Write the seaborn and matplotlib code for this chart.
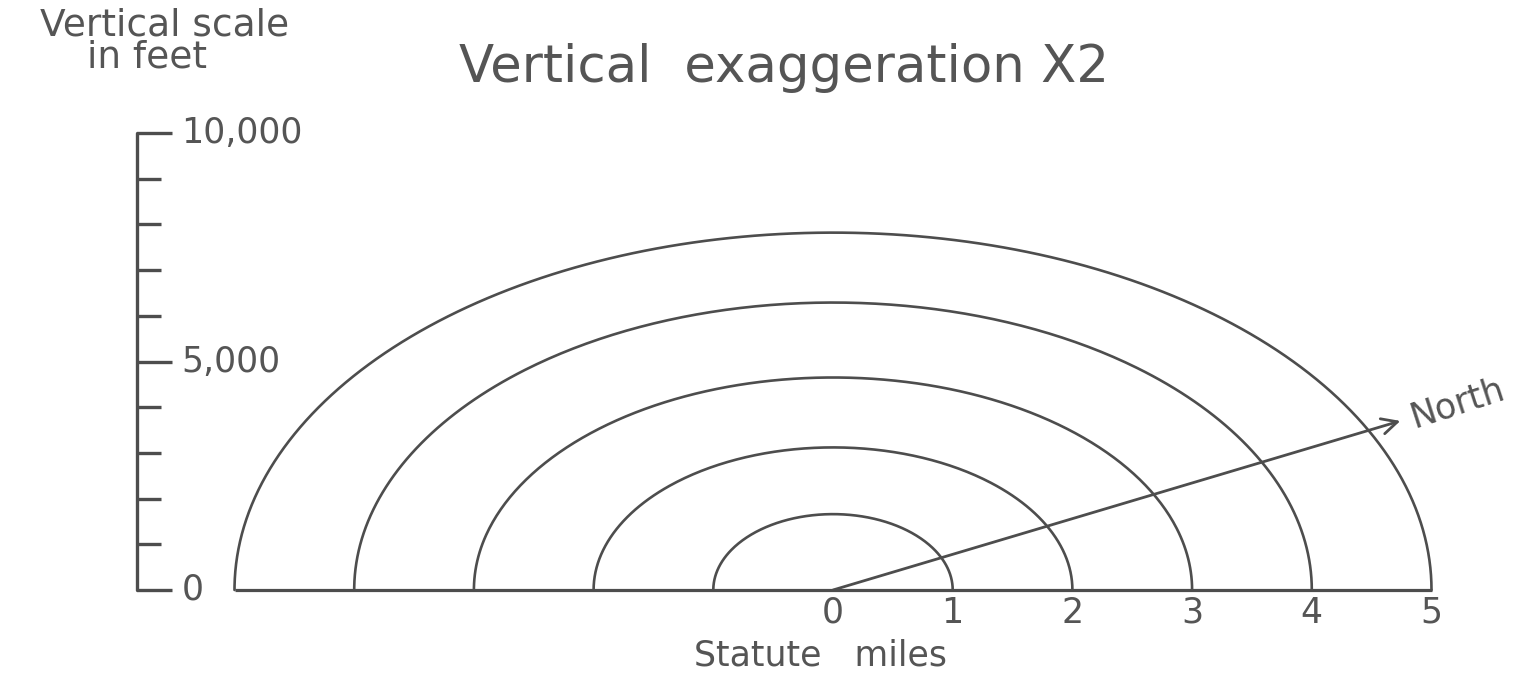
# diagram of arcs at 1-5 statute miles, vertical exaggeration x2
import numpy as np
import pandas as pd
import matplotlib
matplotlib.use('Agg')
import matplotlib.pyplot as plt
import seaborn as sns

# data
radii_miles = [1, 2, 3, 4, 5]
arc_heights_ft = [1660, 3120, 4650, 6290, 7820]
mile_ticks = [0, 1, 2, 3, 4, 5]
mile_labels = ['0', '1', '2', '3', '4', '5']
scale_ticks_ft = [0, 1000, 2000, 3000, 4000, 5000, 6000, 7000, 8000, 9000, 10000]
scale_major_ft = [0, 5000, 10000]
scale_labels = ['0', '5,000', '10,000']
north_tip = (4.74, 3700)   # miles, feet

ink = '#4d4d4d'
txt = '#555555'

sns.set_theme(style='white')
plt.rcParams['font.family'] = ['DejaVu Sans']

# build the half ellipses
t = np.linspace(0, np.pi, 300)
rows = []
for r, h in zip(radii_miles, arc_heights_ft):
    rows.append(pd.DataFrame({'x': r * np.cos(t), 'y': h * np.sin(t), 'radius': r}))
arcs = pd.concat(rows, ignore_index=True)

fig = plt.figure(figsize=(15.2, 6.78), dpi=100)
ax = fig.add_axes([0, 0, 1, 1])
# 1 mile ~ 119.7 px, 1000 ft ~ 45.7 px, origin at (833, 590) px
ax.set_xlim(-833 / 119.7, (1520 - 833) / 119.7)
ax.set_ylim(-(678 - 590) / 0.0457, 590 / 0.0457)
ax.axis('off')

sns.lineplot(data=arcs, x='x', y='y', units='radius', estimator=None, sort=False,
             color=ink, lw=1.9, ax=ax, legend=False)

# ground line
ax.plot([-radii_miles[-1], radii_miles[-1]], [0, 0], color=ink, lw=2.3, solid_capstyle='butt')

# mile numbers
for m, lab in zip(mile_ticks, mile_labels):
    ax.text(m, -500, lab, ha='center', va='center', fontsize=25, color=txt)
fig.text(820 / 1520, 1 - 655 / 678, 'Statute   miles', ha='center', va='center',
         fontsize=25, color=txt)

# north arrow
ax.annotate('', xy=north_tip, xytext=(0, 0),
            arrowprops=dict(arrowstyle='->', color=ink, lw=2, mutation_scale=28,
                            shrinkA=0, shrinkB=0))
ax.annotate('North', xy=north_tip, xytext=(10, -5), textcoords='offset points',
            rotation=18, rotation_mode='anchor', ha='left', va='baseline',
            fontsize=25, color=txt)

# vertical scale bar
bar_x = (137 - 833) / 119.7
ax.plot([bar_x, bar_x], [scale_ticks_ft[0], scale_ticks_ft[-1]], color=ink, lw=2.4)
for ft in scale_ticks_ft:
    ln = 0.29 if ft in scale_major_ft else 0.2
    ax.plot([bar_x, bar_x + ln], [ft, ft], color=ink, lw=2.4, solid_capstyle='butt')
for ft, lab in zip(scale_major_ft, scale_labels):
    ax.text(bar_x + 0.37, ft, lab, ha='left', va='center', fontsize=25, color=txt)

fig.text(165 / 1520, 1 - 25 / 678, 'Vertical scale', ha='center', va='center',
         fontsize=27, color=txt)
fig.text(147 / 1520, 1 - 58 / 678, 'in feet', ha='center', va='center',
         fontsize=27, color=txt)
fig.text(784 / 1520, 1 - 68 / 678, 'Vertical  exaggeration X2', ha='center', va='center',
         fontsize=37, color=txt)

fig.savefig('out.png', dpi=100, facecolor='white')
